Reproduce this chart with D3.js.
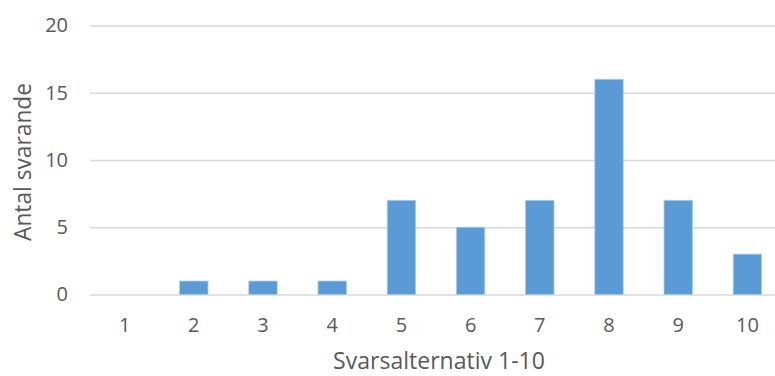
<!DOCTYPE html>
<html>
<head>
<meta charset="utf-8">
<script src="https://cdn.jsdelivr.net/npm/d3@7"></script>
<style>
  html, body { margin: 0; padding: 0; background: #fff; }
  svg { display: block; font-family: "Open Sans", sans-serif; }
</style>
</head>
<body>
<svg id="chart" width="775" height="376"></svg>
<script>
// Number of respondents per answer option (1–10)
const categories = ["1", "2", "3", "4", "5", "6", "7", "8", "9", "10"];
const counts = [0, 1, 1, 1, 7, 5, 7, 16, 7, 3];
const yTicks = [0, 5, 10, 15, 20];

const xTitle = "Svarsalternativ 1-10";
const yTitle = "Antal svarande";

const svg = d3.select("#chart");
const plot = { left: 90, right: 782, top: 25.5, bottom: 294.5 };

const x = d3.scaleBand()
  .domain(categories)
  .range([plot.left, plot.right])
  .paddingInner(0.59)
  .paddingOuter(0.295);

const y = d3.scaleLinear()
  .domain([0, 20])
  .range([plot.bottom, plot.top]);

const textColor = "#595959";
const tickFont = 20;

// Horizontal gridlines with value labels
const yAxis = d3.axisLeft(y)
  .tickValues(yTicks)
  .tickSize(-(plot.right - plot.left))
  .tickPadding(22);

const gy = svg.append("g")
  .attr("transform", `translate(${plot.left},0)`)
  .call(yAxis);
gy.select(".domain").remove();
gy.selectAll(".tick line").attr("stroke", "#d9d9d9").attr("stroke-width", 1.3);
gy.selectAll(".tick text")
  .attr("fill", textColor)
  .attr("font-size", tickFont)
  .attr("font-family", "Open Sans, sans-serif");

// Bars
svg.append("g")
  .selectAll("rect")
  .data(counts)
  .join("rect")
  .attr("x", (d, i) => x(categories[i]))
  .attr("y", d => y(d))
  .attr("width", x.bandwidth())
  .attr("height", d => y(0) - y(d))
  .attr("fill", "#5b9bd5")
  .attr("stroke", "#a9c8e8")
  .attr("stroke-width", 0.8);

// Category labels
const xAxis = d3.axisBottom(x).tickSize(0).tickPadding(23);
const gx = svg.append("g")
  .attr("transform", `translate(0,${plot.bottom})`)
  .call(xAxis);
gx.select(".domain").remove();
gx.selectAll(".tick text")
  .attr("fill", textColor)
  .attr("font-size", tickFont)
  .attr("font-family", "Open Sans, sans-serif");

// Scale a title's font so the text spans the given length
function fitText(sel, length) {
  sel.attr("font-size", 20);
  const w = sel.node().getComputedTextLength();
  sel.attr("font-size", 20 * length / w);
}

// Axis titles
const xt = svg.append("text")
  .attr("x", 439)
  .attr("y", 369)
  .attr("text-anchor", "middle")
  .attr("fill", textColor)
  .text(xTitle);
fitText(xt, 212);

const yt = svg.append("text")
  .attr("transform", "translate(31,162) rotate(-90)")
  .attr("text-anchor", "middle")
  .attr("fill", textColor)
  .text(yTitle);
fitText(yt, 158);
</script>
</body>
</html>
